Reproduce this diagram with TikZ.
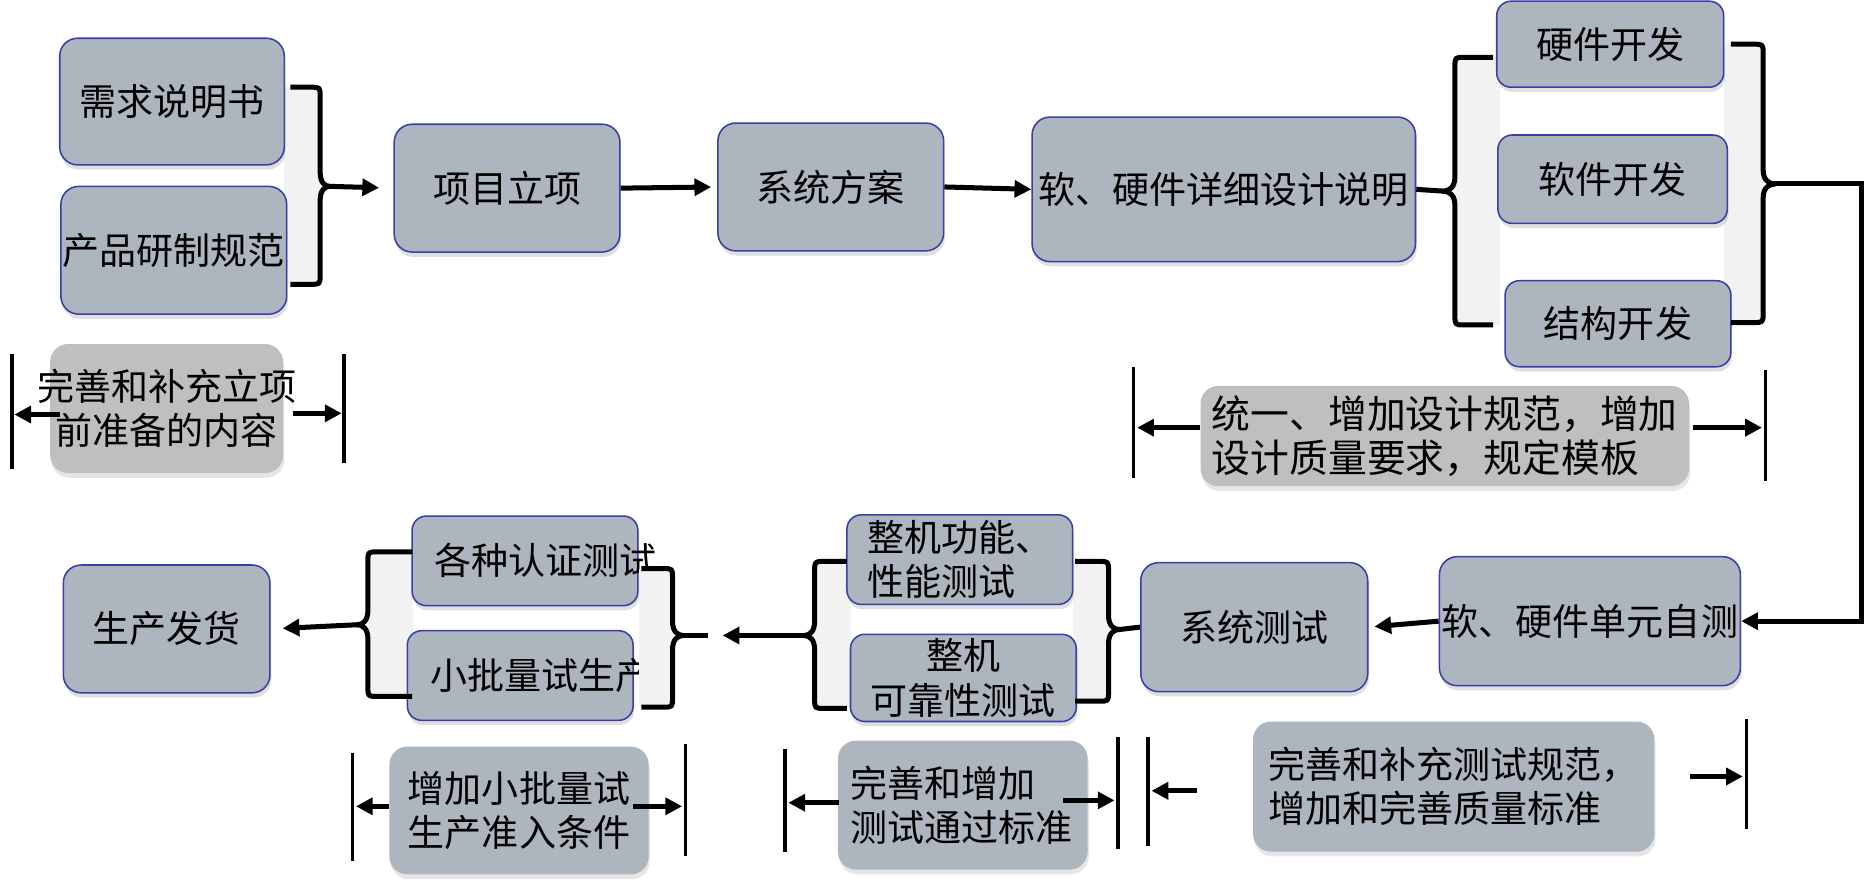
\documentclass[tikz,border=0pt]{standalone}
\usepackage{fontspec}
\newfontfamily\cjk{Noto Sans CJK SC}
\usetikzlibrary{arrows.meta,shadows}
\definecolor{boxfill}{RGB}{173,181,191}
\definecolor{boxline}{RGB}{58,62,168}
\definecolor{notegray}{RGB}{191,191,191}
\definecolor{bracefill}{RGB}{242,242,242}
\tikzset{
  box/.style={draw=boxline, line width=1.3pt, fill=boxfill, rounded corners=15pt, inner sep=0pt,
    align=center, font=\cjk\fontsize{31}{37}\selectfont,
    drop shadow={shadow xshift=1pt, shadow yshift=-4pt, opacity=0.25}},
  memo/.style={fill=#1, rounded corners=15pt, inner sep=0pt, align=left,
    font=\cjk\fontsize{31}{37}\selectfont,
    drop shadow={shadow xshift=1pt, shadow yshift=-4pt, opacity=0.2}},
  bracepath/.style={line width=4.2pt, line join=round},
  bfill/.style={fill=bracefill},
  arr/.style={line width=4.2pt, -{Triangle[length=14pt,width=14pt]}},
  stub/.style={line width=4.2pt},
  bar/.style={line width=3pt},
}
% #1 end x, #2 vertical x, #3 tip x, #4 top y, #5 cusp y, #6 bottom y
\newcommand{\mybrace}[6]{%
  \draw[bracepath] (#1,#4) -- ({#2+8*(#1-#2)/abs(#1-#2)},#4) .. controls (#2,#4) .. (#2,{#4+8})
    -- (#2,{#5-12}) .. controls (#2,{#5-3}) and ({(#2+#3)/2},#5) .. (#3,#5)
    .. controls ({(#2+#3)/2},#5) and (#2,{#5+3}) .. (#2,{#5+12})
    -- (#2,{#6-8}) .. controls (#2,#6) .. ({#2+8*(#1-#2)/abs(#1-#2)},#6) -- (#1,#6);}
\begin{document}
\begin{tikzpicture}[x=1pt,y=-1pt]
\useasboundingbox (0,0) rectangle (1568,740);

% brace fills (behind)
\fill[bfill] (238,73) rectangle (268,238);
\fill[bfill] (1218,48) rectangle (1256,272);
\fill[bfill] (1443,37) rectangle (1476,270);
\fill[bfill] (308,462) rectangle (346,583);
\fill[bfill] (682,470) rectangle (712,593);
\fill[bfill] (898,470) rectangle (928,587);

% top row nodes
\node[box, minimum width=188pt, minimum height=106pt] (req) at (144,85) {需求说明书};
\node[box, minimum width=189pt, minimum height=107pt] (std) at (145.5,209.5) {产品研制规范};
\node[box, minimum width=189pt, minimum height=107pt] (proj) at (424.5,157.5) {项目立项};
\node[box, minimum width=189pt, minimum height=107pt] (sys) at (695.5,156.5) {系统方案};
\node[box, minimum width=321pt, minimum height=121pt] (detail) at (1024.5,158.5) {软、硬件详细设计说明};
\node[box, minimum width=190pt, minimum height=72pt, rounded corners=12pt] (hw) at (1348,37) {硬件开发};
\node[box, minimum width=192pt, minimum height=74pt, rounded corners=12pt] (sw) at (1350,150) {软件开发};
\node[box, minimum width=189pt, minimum height=72pt, rounded corners=12pt] (mech) at (1354.5,271) {结构开发};

% bottom row nodes
\node[box, minimum width=252pt, minimum height=108pt] (unit) at (1331,520) {软、硬件单元自测};
\node[box, minimum width=190pt, minimum height=108pt] (systest) at (1050,525) {系统测试};
\node[box, minimum width=189pt, minimum height=75pt, rounded corners=12pt, align=left] (func) at (803.5,468.5) {整机功能、\\性能测试};
\node[box, minimum width=189pt, minimum height=73pt, rounded corners=12pt] (rel) at (806.5,567.5) {整机\\可靠性测试};
\node[box, minimum width=189pt, minimum height=75pt, rounded corners=12pt, text width=189pt, align=left] (cert) at (439.5,469.5) {\hspace*{19pt}各种认证测试};
\node[box, minimum width=189pt, minimum height=75pt, rounded corners=12pt, text width=189pt, align=left] (small) at (435.5,565.5) {\hspace*{19pt}小批量试生产};
\node[box, minimum width=173pt, minimum height=107pt] (ship) at (139.5,526.5) {生产发货};

% annotation boxes
\node[memo=notegray, minimum width=195pt, minimum height=108pt, align=center] (a1) at (139.5,342) {\makebox[195pt]{完善和补充立项}\\\makebox[195pt]{前准备的内容}};
\node[memo=notegray, minimum width=409pt, minimum height=84pt, font=\cjk\fontsize{32.5}{37}\selectfont] (a2) at (1209.5,365) {统一、增加设计规范，增加\\设计质量要求，规定模板};
\node[memo=boxfill, minimum width=217pt, minimum height=107pt] (a3) at (434.5,678.5) {增加小批量试\\生产准入条件};
\node[memo=boxfill, minimum width=209pt, minimum height=108pt, text width=188pt] (a4) at (806,674) {完善和增加\\测试通过标准};
\node[memo=boxfill, minimum width=336pt, minimum height=109pt] (a5) at (1217,658.5) {完善和补充测试规范，\\增加和完善质量标准};

% fill drawn over overflowing text (right side of group 4)
\fill[bfill] (535,476) rectangle (563,592);

% braces
\mybrace{243}{268}{276}{73}{156}{238}
\coordinate (g1) at (276,156);
\mybrace{1250}{1218}{1208}{48}{160}{272}
\coordinate (g2l) at (1208,160);
\mybrace{1449}{1476}{1486}{37}{154}{270}
\coordinate (g2r) at (1486,154);
\mybrace{900}{928}{937}{470}{527}{587}
\coordinate (g3r) at (937,527);
\mybrace{709}{682}{673}{470}{532}{593}
\coordinate (g3l) at (673,532);
\mybrace{537}{563}{572}{476}{532}{592}
\coordinate (g4r) at (572,532);
\mybrace{345}{308}{299}{462}{523}{583}
\coordinate (g4l) at (299,523);

% main connectors
\draw[arr, shorten >=12pt] (g1) -- (proj.west);
\draw[arr, shorten >=5pt] (proj.east) -- (sys.west);
\draw[arr] (sys.east) -- (detail.west);
\draw[stub] (detail.east) -- (g2l);
\coordinate (rc) at (1558,154);
\draw[arr] (g2r) -- (rc) |- (unit.east);
\draw[arr, shorten >=5pt] (unit.west) -- (systest.east);
\draw[stub] (g3r) -- (systest.west);
\coordinate (g4t) at (593,532);
\draw[stub] (g4r) -- (g4t);
\draw[arr, shorten >=12pt] (g3l) -- (g4t);
\draw[arr, shorten >=10pt] (g4l) -- (ship.east);

% annotation bars and arrows
\draw[bar] (10,296) -- (10,393);
\draw[bar] (288,296) -- (288,388);
\coordinate (a1l) at (12,347); \coordinate (a1r) at (286,346);
\draw[arr] (50,347) -- (a1l);
\draw[arr] (245,346) -- (a1r);

\draw[bar] (949,307) -- (949,400);
\draw[bar] (1478,310) -- (1478,403);
\coordinate (a2l) at (952,358); \coordinate (a2r) at (1475,358);
\draw[arr] (a2.west |- a2l) -- (a2l);
\draw[arr] (1417,358) -- (a2r);

\draw[bar] (295,630) -- (295,721);
\draw[bar] (574,623) -- (574,717);
\coordinate (a3l) at (298,675); \coordinate (a3r) at (571,675);
\draw[arr] (a3.west |- a3l) -- (a3l);
\draw[arr] (530,675) -- (a3r);

\draw[bar] (657,627) -- (657,713);
\draw[bar] (936,617) -- (936,711);
\coordinate (a4l) at (660,672); \coordinate (a4r) at (933,670);
\draw[arr] (702,672) -- (a4l);
\draw[arr] (890,670) -- (a4r);

\draw[bar] (961,617) -- (961,708);
\draw[bar] (1462,602) -- (1462,694);
\coordinate (a5l) at (964,662); \coordinate (a5r) at (1459,650);
\draw[arr] (1002,662) -- (a5l);
\draw[arr] (1415,650) -- (a5r);
\end{tikzpicture}
\end{document}
